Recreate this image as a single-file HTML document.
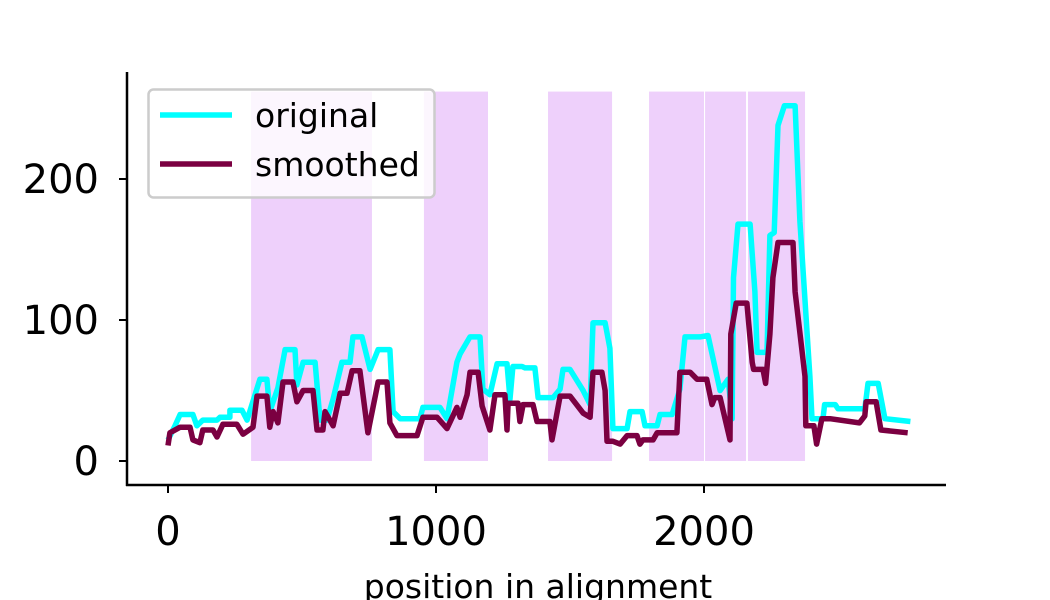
<!DOCTYPE html>
<html><head><meta charset="utf-8"><style>
html,body{margin:0;padding:0;background:#fff;}
svg{display:block;font-family:"DejaVu Sans","Liberation Sans",sans-serif;}
</style></head><body>
<svg id="chart" width="1050" height="600" xmlns="http://www.w3.org/2000/svg">
<g id="shading"></g>
<g id="lines"></g>
<g id="axes"></g>
<g>
  <rect x="148.5" y="89.5" width="286" height="108" rx="5" fill="#fff" fill-opacity="0.8" stroke="#cccccc" stroke-width="2.5"/>
  <line x1="160" y1="115" x2="232" y2="115" stroke="#00ffff" stroke-width="5.5"/>
  <text x="255" y="127" font-size="33">original</text>
  <line x1="160" y1="164" x2="232" y2="164" stroke="#7b0041" stroke-width="5.5"/>
  <text x="255" y="176" font-size="33">smoothed</text>
</g>
<text x="538" y="598" font-size="33" text-anchor="middle">position in alignment</text>
</svg>
<script>
const regionStarts=[310,955,1418,1795,2004,2164];
const regionEnds=[761,1194,1657,2000,2157,2377];
const regionTop=[262,262,262,262,262,262];
const origX=[0,26,45,93,108,130,183,194,231,231,276,295,343,369,380,410,437,474,481,504,549,567,593,616,649,679,690,724,754,784,828,840,866,940,951,1015,1041,1078,1090,1127,1164,1175,1201,1228,1265,1276,1287,1321,1332,1369,1381,1437,1463,1474,1500,1549,1575,1586,1631,1649,1660,1713,1724,1769,1780,1825,1836,1881,1910,1929,1985,2015,2060,2090,2100,2105,2110,2127,2172,2190,2198,2235,2246,2262,2276,2300,2340,2358,2395,2403,2444,2450,2490,2500,2600,2612,2650,2675,2770];
const origY=[15,25,33,33,25,29,29,31,31,36,36,29,58,58,35,52,79,79,54,70,70,29,29,44,70,70,88,88,65,79,79,35,30,30,38,38,30,70,76,88,88,51,47,69,69,44,67,67,66,66,45,45,51,65,65,50,40,98,98,80,23,23,35,35,25,25,33,33,51,88,88,89,50,58,40,30,130,168,168,120,77,77,160,162,238,252,252,170,60,30,30,40,40,37,37,55,55,30,28];
const smX=[0,7,45,82,93,119,130,168,183,205,257,280,317,332,369,380,392,410,429,466,481,504,541,556,578,586,616,642,668,687,716,746,784,817,828,854,929,951,1004,1041,1078,1090,1116,1127,1157,1172,1201,1220,1257,1265,1269,1306,1313,1325,1362,1377,1425,1433,1463,1500,1549,1575,1586,1619,1631,1638,1660,1687,1713,1750,1761,1772,1810,1825,1899,1910,1948,1974,2010,2030,2040,2060,2097,2100,2120,2160,2180,2185,2220,2230,2246,2257,2276,2332,2340,2377,2380,2410,2420,2440,2470,2580,2600,2605,2642,2660,2760];
const smY=[11,20,24,24,15,13,22,22,17,26,26,19,24,46,46,24,35,27,56,56,42,50,50,22,22,35,25,48,48,64,64,20,56,56,27,18,18,31,31,23,38,31,47,63,63,39,22,47,47,22,41,41,28,40,40,28,28,15,46,46,34,31,63,63,50,14,14,12,18,18,12,15,15,20,20,63,63,58,58,40,45,45,15,90,112,112,70,65,65,55,90,130,155,155,120,60,25,25,12,30,30,27,32,42,42,22,20];
const xTicks=[0,1000,2000];
const yTicks=[0,100,200];
const NS='http://www.w3.org/2000/svg';
function sx(v){return 168+v*0.268;}
function sy(v){return 461-v*1.41;}
function mk(tag,attrs,parent){const e=document.createElementNS(NS,tag);for(const k in attrs)e.setAttribute(k,attrs[k]);parent.appendChild(e);return e;}
const shading=document.getElementById('shading');
for(let i=0;i<regionStarts.length;i++){
  const r=mk('rect',{x:sx(regionStarts[i]),y:sy(regionTop[i]),width:sx(regionEnds[i])-sx(regionStarts[i]),height:sy(0)-sy(regionTop[i]),fill:'#eed0fb'},shading);
  
  
}
const lines=document.getElementById('lines');
function pts(xs,ys){return xs.map((x,i)=>sx(x).toFixed(1)+','+sy(ys[i]).toFixed(1)).join(' ');}
const l1=mk('polyline',{points:pts(origX,origY),fill:'none',stroke:'#00ffff','stroke-width':5.5,'stroke-linejoin':'round'},lines);


const l2=mk('polyline',{points:pts(smX,smY),fill:'none',stroke:'#7b0041','stroke-width':5.5,'stroke-linejoin':'round'},lines);


const axes=document.getElementById('axes');
const ya=mk('line',{x1:127,y1:72,x2:127,y2:486,stroke:'#000','stroke-width':2.5},axes);


const xa=mk('line',{x1:126,y1:485,x2:946,y2:485,stroke:'#000','stroke-width':2.5},axes);


xTicks.forEach(t=>{
  mk('line',{x1:sx(t),y1:485,x2:sx(t),y2:493,stroke:'#000','stroke-width':2},axes);
  const tx=mk('text',{x:sx(t),y:545,'font-size':40,'text-anchor':'middle'},axes);
  tx.textContent=t;
  
  
});
yTicks.forEach(t=>{
  mk('line',{x1:119,y1:sy(t),x2:127,y2:sy(t),stroke:'#000','stroke-width':2},axes);
  const tx=mk('text',{x:99,y:sy(t)+14,'font-size':40,'text-anchor':'end'},axes);
  tx.textContent=t;
  
  
});
</script>
</body></html>
